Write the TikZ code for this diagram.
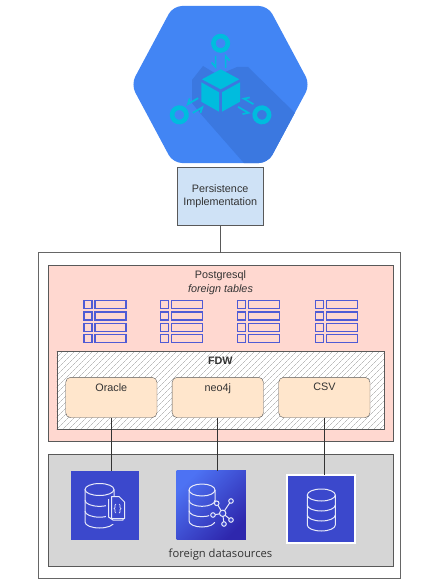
\documentclass[tikz,border=0pt]{standalone}
\usepackage{fontspec}
\setmainfont{Liberation Sans}
\newfontfamily\dsfont{Open Sans}
\usetikzlibrary{patterns.meta,shadows}
\definecolor{hexblue}{HTML}{4285F4}
\definecolor{hexshade}{HTML}{3B78E0}
\definecolor{cubecyan}{HTML}{00BCDE}
\definecolor{persistblue}{HTML}{CFE2F6}
\definecolor{pinkfill}{HTML}{FFD8D0}
\definecolor{wrapfill}{HTML}{FFE6CC}
\definecolor{grayfill}{HTML}{D6D6D6}
\definecolor{tableblue}{HTML}{4F5BD5}
\definecolor{iconblue}{HTML}{3B48CC}
\definecolor{gradtop}{HTML}{4D72F3}
\definecolor{gradbot}{HTML}{2E27AD}
\definecolor{inkgray}{HTML}{333333}
\tikzset{
  box/.style={draw=#1,inner sep=0pt,outer sep=0pt},
  box/.default={black!65},
  wrapper/.style={box,fill=wrapfill,rounded corners=5pt,minimum width=91.3pt,minimum height=40.4pt},
  caption/.style={text=inkgray,inner sep=0pt,font=\fontsize{10.8}{12.5}\selectfont},
  dbline/.style={draw=white!88!iconblue,line width=1pt},
  halfarrow/.style={cubecyan,line width=1.7pt,line join=miter}
}
\newcommand{\dbcan}[4]{% x, top, rx, height
  \draw[dbline] (#1-#3,#2) -- (#1-#3,#2+#4) arc[start angle=180,end angle=0,x radius=#3,y radius=6] -- (#1+#3,#2);
  \draw[dbline] (#1,#2) ellipse (#3 and 6);
  \draw[dbline] (#1-#3,#2+#4/3) arc[start angle=180,end angle=0,x radius=#3,y radius=6];
  \draw[dbline] (#1-#3,#2+2*#4/3) arc[start angle=180,end angle=0,x radius=#3,y radius=6];
}
\begin{document}
\begin{tikzpicture}[x=1pt,y=-1pt]
\useasboundingbox (0,0) rectangle (440,583);
\begin{scope}
\clip[rounded corners=9pt] (131,84.5) -- (173,6) -- (268,6) -- (310,84.5) -- (268,163) -- (173,163) -- cycle;
\fill[hexblue] (120,0) rectangle (320,170);
\fill[hexshade] (192,80) -- (203,66) -- (218,75) -- (237,67) -- (248,67) -- (296,114) -- (296,170) -- (250,170) -- (200,113) -- (192,103) -- cycle;
\end{scope}
\fill[cubecyan] (220.7,69.3) -- (239.3,79.3) -- (220.7,89.3) -- (202,79.3) -- cycle;
\fill[cubecyan] (201.3,82.3) -- (219,92.3) -- (219,111.7) -- (201.3,101.7) -- cycle;
\fill[cubecyan] (222,92.3) -- (240,82.3) -- (240,101.7) -- (222,111.7) -- cycle;
\foreach \ang in {0,120,240} {
  \begin{scope}[rotate around={\ang:(220.6,91)}]
  \draw[cubecyan,line width=4.6pt] (220.6,43.3) circle (7.2);
  \draw[halfarrow] (215.6,56) -- (215.6,67) -- (211.6,62.5);
  \draw[halfarrow] (225.6,68) -- (225.6,56) -- (229.6,60.5);
  \end{scope}
}

\node[box,fill=persistblue,minimum width=86.3pt,minimum height=57.7pt] (persist) at (220.2,196.2) {};
\node[caption,align=center] (persisttext) at (persist.center) {Persistence\\Implementation};
\node[box=black!60,fill=white,line width=.9pt,minimum width=362pt,minimum height=325.4pt] (outer) at (219,415.3) {};
\draw[black!65] (persist.south) -- (persist.south |- outer.north);

\node[box,fill=pinkfill,minimum width=345pt,minimum height=176pt] (postgres) at (220.5,353) {};
\node[caption,below] (posttext) at (220.5,270) {Postgresql};
\node[caption,below] (foreigntext) at (220.5,284) {\itshape foreign tables};
\foreach \xp in {83.3,160,236.7,315} {
  \foreach \yp in {300,311.2,322.6,334} {
    \draw[tableblue,line width=1.5pt] (\xp+.7,\yp+.7) rectangle ++(8,8);
    \draw[tableblue,line width=1.5pt] (\xp+11.7,\yp+.7) rectangle ++(31,8);
  }
}

\node[box,preaction={fill=white},pattern={Lines[angle=45,distance=4pt,line width=.3pt]},pattern color=black!40,minimum width=327.3pt,minimum height=78pt] (fdw) at (220.35,390) {};
\node[caption,below] (fdwtext) at (220.35,356.5) {\bfseries FDW};
\node[wrapper] (oracle) at (111.35,397.5) {};
\node[wrapper] (neo) at (217.8,397.5) {};
\node[wrapper] (csv) at (324.35,397.5) {};
\node[caption,below] (oracletext) at (111.35,383) {Oracle};
\node[caption,below] (neotext) at (217.8,383) {neo4j};
\node[caption,below] (csvtext) at (324.35,383) {CSV};

\node[box,fill=grayfill,line width=.7pt,minimum width=345pt,minimum height=112pt] (sources) at (220.5,510) {};
\node[inner sep=0pt,text=inkgray,font=\dsfont\fontsize{11.2}{13}\selectfont] (sourcetext) at (220.5,555) {foreign datasources};
\node[fill=iconblue,inner sep=0pt,outer sep=0pt,minimum width=68.6pt,minimum height=69pt] (dsdoc) at (105,505.2) {};
\node[inner sep=0pt,outer sep=0pt,top color=gradtop,bottom color=gradbot,shading angle=45,minimum width=69.3pt,minimum height=69pt] (dsgraph) at (211.3,505.2) {};
\node[draw=white,line width=2.4pt,fill=iconblue,inner sep=0pt,outer sep=0pt,minimum width=67.6pt,minimum height=67.6pt,drop shadow={shadow xshift=.8pt,shadow yshift=-.8pt,opacity=.4}] (dsplain) at (321,509) {};
\draw[black!80] (oracle.south) -- (oracle.south |- dsdoc.north);
\draw[black!80] (neo.south) ++(-1,0) -- (216.8,470.7);
\draw[black!80] (csv.south) -- (csv.south |- dsplain.north);

\dbcan{99.5}{489.5}{14.5}{32.5}
\fill[iconblue] (106,496) rectangle (126,524);
\draw[dbline,line join=round] (108.5,499) -- (108.5,517) -- (113,520) -- (123,520) -- (123,519);
\draw[dbline,line join=round] (111.5,496.5) -- (119,496.5) -- (124.5,502) -- (124.5,518.5) -- (111.5,518.5) -- cycle;
\draw[white!88!iconblue,line width=.7pt] (116,504) -- (115,505) -- (115,507.5) -- (114,508.5) -- (115,509.5) -- (115,512) -- (116,513);
\draw[white!88!iconblue,line width=.7pt] (119,504) -- (120,505) -- (120,507.5) -- (121,508.5) -- (120,509.5) -- (120,512) -- (119,513);

\begin{scope}
\clip (185,480) -- (218,480) -- (218,498) -- (209,510) -- (209,522) -- (218,522) -- (218,535) -- (185,535) -- cycle;
\dbcan{202}{490}{13}{31}
\end{scope}
\draw[dbline] (222.7,513.3) -- (216.7,503.3) (222.7,513.3) -- (213,515) (222.7,513.3) -- (224,524) (222.7,513.3) -- (231,501) (222.7,513.3) -- (231,520);
\foreach \xn/\yn in {216.7/503.3,213/515,224/524,231/501,231/520} {
  \draw[dbline,fill=iconblue] (\xn,\yn) circle (2.3);
}
\draw[dbline,fill=iconblue] (222.7,513.3) circle (3.2);

\dbcan{321.3}{495}{14}{30}
\end{tikzpicture}
\end{document}
